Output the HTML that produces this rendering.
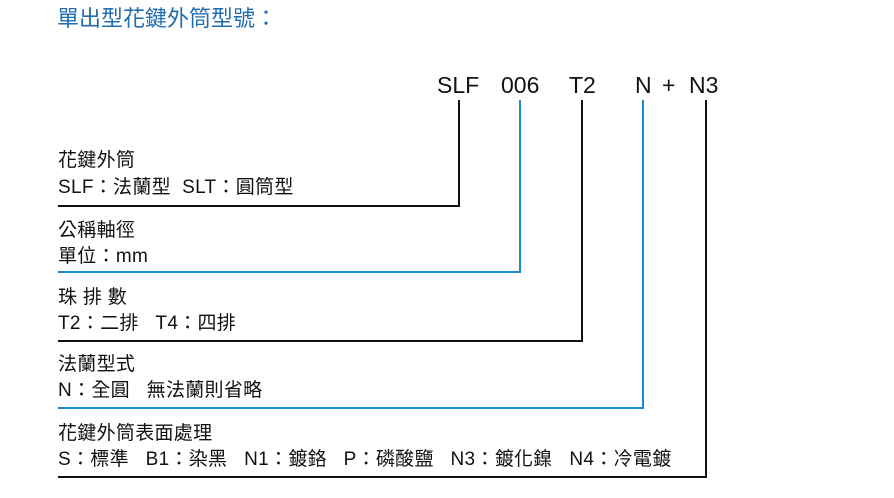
<!DOCTYPE html>
<html><head><meta charset="utf-8"><style>
body{margin:0;width:894px;height:498px;background:#fff;position:relative;overflow:hidden;font-family:"Liberation Sans","Noto Sans CJK TC",sans-serif;}
.t{position:absolute;white-space:nowrap;color:#111;font-size:19px;line-height:22px;letter-spacing:0.3px}
.c{position:absolute;font-size:23px;line-height:26px;color:#111;}
.v{position:absolute;width:2px;}
.h{position:absolute;height:2px;left:58px;}
.k{background:#111}.b{background:#1a8ad0}
</style></head><body>
<div class="t" style="left:57px;top:5px;font-size:22px;line-height:28px;color:#1f6cb0;letter-spacing:0">單出型花鍵外筒型號：</div>
<div class="c" style="left:437px;top:72px">SLF</div>
<div class="c" style="left:501px;top:72px">006</div>
<div class="c" style="left:569px;top:72px">T2</div>
<div class="c" style="left:635px;top:72px">N</div>
<div class="c" style="left:662px;top:72px">+</div>
<div class="c" style="left:689px;top:72px">N3</div>
<div class="v k" style="left:458px;top:100px;height:107px"></div>
<div class="h k" style="top:205px;width:402px"></div>
<div class="v b" style="left:519px;top:100px;height:173px"></div>
<div class="h b" style="top:271px;width:463px"></div>
<div class="v k" style="left:581px;top:100px;height:242px"></div>
<div class="h k" style="top:340px;width:525px"></div>
<div class="v b" style="left:642px;top:100px;height:309px"></div>
<div class="h b" style="top:407px;width:586px"></div>
<div class="v k" style="left:705px;top:100px;height:378px"></div>
<div class="h k" style="top:476px;width:649px"></div>
<div class="t" style="left:58px;top:150px">花鍵外筒</div>
<div class="t" style="left:58px;top:177px">SLF：法蘭型&nbsp; SLT：圓筒型</div>
<div class="t" style="left:58px;top:220px">公稱軸徑</div>
<div class="t" style="left:58px;top:246px">單位：mm</div>
<div class="t" style="left:58px;top:287px">珠 排 數</div>
<div class="t" style="left:58px;top:313px">T2：二排&nbsp;&nbsp; T4：四排</div>
<div class="t" style="left:58px;top:354px">法蘭型式</div>
<div class="t" style="left:58px;top:380px">N：全圓&nbsp;&nbsp; 無法蘭則省略</div>
<div class="t" style="left:58px;top:423px">花鍵外筒表面處理</div>
<div class="t" style="left:58px;top:449px">S：標準&nbsp;&nbsp; B1：染黑&nbsp;&nbsp; N1：鍍鉻&nbsp;&nbsp; P：磷酸鹽&nbsp;&nbsp; N3：鍍化鎳&nbsp;&nbsp; N4：冷電鍍</div>
</body></html>
